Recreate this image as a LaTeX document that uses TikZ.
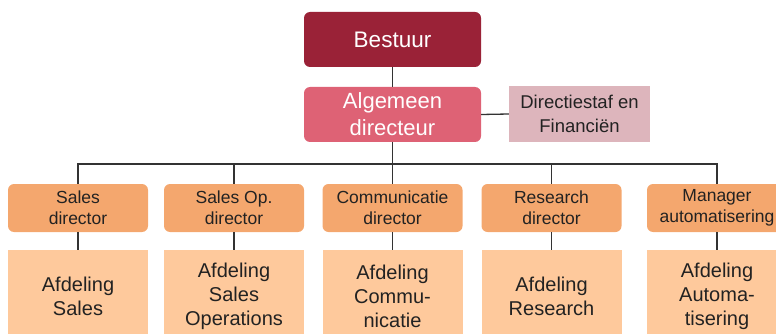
\documentclass[tikz,border=0pt]{standalone}
\usepackage{fontspec}
\setmainfont{Liberation Sans}
\usetikzlibrary{positioning}

\definecolor{bestuurred}{HTML}{9A2237}
\definecolor{algred}{HTML}{DE6275}
\definecolor{stafpink}{HTML}{DDB5BC}
\definecolor{dirorange}{HTML}{F4A76E}
\definecolor{afdorange}{HTML}{FEC99C}
\definecolor{linegray}{HTML}{333333}
\definecolor{txtgray}{HTML}{222222}

\begin{document}
\begin{tikzpicture}[x=1pt,y=-1pt]
  %----- styles
  \tikzset{
    top/.style    ={fill=bestuurred,text=white,rounded corners=6pt,minimum width=177pt,minimum height=55pt,
                    font=\fontsize{22.5}{26}\selectfont,align=center,inner sep=0pt},
    gm/.style     ={fill=algred,text=white,rounded corners=6pt,minimum width=177pt,minimum height=55pt,
                    font=\fontsize{22}{27}\selectfont,align=center,inner sep=0pt},
    staf/.style   ={fill=stafpink,text=txtgray,minimum width=141pt,minimum height=56pt,
                    font=\fontsize{18.5}{24}\selectfont,align=center,inner sep=0pt},
    dir/.style    ={fill=dirorange,text=txtgray,rounded corners=6pt,minimum width=140pt,minimum height=48pt,
                    font=\fontsize{17.5}{21}\selectfont,align=center,inner sep=0pt},
    afd/.style    ={fill=afdorange,text=txtgray,minimum width=140pt,minimum height=92pt,
                    font=\fontsize{20}{24}\selectfont,align=center,inner sep=0pt},
    link/.style   ={draw=linegray,line width=1.3pt}
  }

  \useasboundingbox (0,0) rectangle (776,334);
  \clip (0,0) rectangle (776,334);

  %==================== COLUMN LAYOUT ====================
  \def\xA{78}     % sales
  \def\xB{234}    % sales operations
  \def\xC{392.5}  % communicatie
  \def\xD{551.5}  % research
  \def\xE{717}    % automatisering

  %----- nodes
  % Top: board and general manager
  \node[top] (bestuur) at (392.5,39.5) {Bestuur};
  \node[gm] (alg) at (392.5,114.5) {Algemeen\\directeur};
  \node[staf] (staf) at (579.5,114) {Directiestaf en\\Financiën};

  % Bus line between general manager and directors
  \coordinate (bus) at (0,164);

  % Directors
  \node[dir] (dirA) at (\xA,208) {Sales\\director};
  \node[dir] (dirB) at (\xB,208) {Sales Op.\\director};
  \node[dir] (dirC) at (\xC,208) {Communicatie\\director};
  \node[dir] (dirD) at (\xD,208) {Research\\director};
  \node[dir] (dirE) at (\xE,208) {Manager\\automatisering};

  % Departments
  \node[afd] (afdA) at (\xA,296) {Afdeling\\Sales};
  \node[afd] (afdB) at (\xB,296) {Afdeling\\Sales\\Operations};
  \node[afd] (afdC) at (\xC,296) {Afdeling\\Commu-\\nicatie};
  \node[afd] (afdD) at (\xD,296) {Afdeling\\Research};
  \node[afd] (afdE) at (\xE,296) {Afdeling\\Automa-\\tisering};

  %----- connections
  \draw[link] (bestuur.south) -- (alg.north);
  \draw[link] (alg.east) -- (staf.west);
  \draw[link] (alg.south) -- (alg.south |- bus);

  % bus with outer directors
  \draw[link] (dirA.north) -- (dirA.north |- bus) -- (dirE.north |- bus) -- (dirE.north);
  \draw[link] (dirB.north) -- (dirB.north |- bus);
  \draw[link] (dirC.north) -- (dirC.north |- bus);
  \draw[link] (dirD.north) -- (dirD.north |- bus);

  % director -> department
  \draw[link] (dirA.south) -- (afdA.north);
  \draw[link] (dirB.south) -- (afdB.north);
  \draw[link] (dirC.south) -- (afdC.north);
  \draw[link] (dirD.south) -- (afdD.north);
  \draw[link] (dirE.south) -- (afdE.north);

\end{tikzpicture}
\end{document}
